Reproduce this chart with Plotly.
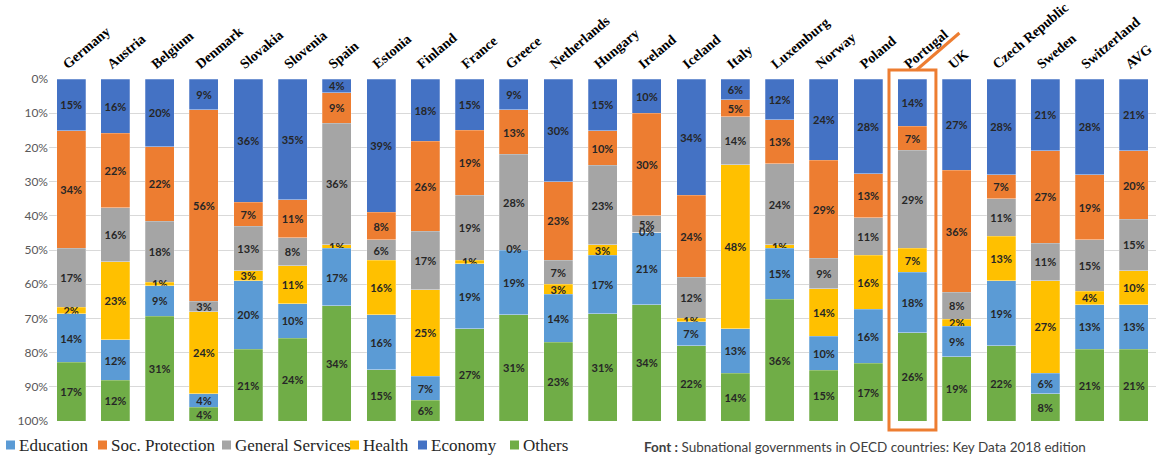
import plotly.graph_objects as go

countries = ["Germany", "Austria", "Belgium", "Denmark", "Slovakia", "Slovenia", "Spain",
             "Estonia", "Finland", "France", "Greece", "Netherlands", "Hungary", "Ireland",
             "Iceland", "Italy", "Luxemburg", "Norway", "Poland", "Portugal", "UK",
             "Czech Republic", "Sweden", "Switzerland", "AVG"]

economy = [15, 16, 20, 9, 36, 35, 4, 39, 18, 15, 9, 30, 15, 10, 34, 6, 12, 24, 28, 14, 27, 28, 21, 28, 21]
soc_protection = [34, 22, 22, 56, 7, 11, 9, 8, 26, 19, 13, 23, 10, 30, 24, 5, 13, 29, 13, 7, 36, 7, 27, 19, 20]
general_services = [17, 16, 18, 3, 13, 8, 36, 6, 17, 19, 28, 7, 23, 5, 12, 14, 24, 9, 11, 29, 8, 11, 11, 15, 15]
health = [2, 23, 1, 24, 3, 11, 1, 16, 25, 1, 0, 3, 3, 0, 1, 48, 1, 14, 16, 7, 2, 13, 27, 4, 10]
education = [14, 12, 9, 4, 20, 10, 17, 16, 7, 19, 19, 14, 17, 21, 7, 13, 15, 10, 16, 18, 9, 19, 6, 13, 13]
others = [17, 12, 31, 4, 21, 24, 34, 15, 6, 27, 31, 23, 31, 34, 22, 14, 36, 15, 17, 26, 19, 22, 8, 21, 21]

y_ticks = [0, 10, 20, 30, 40, 50, 60, 70, 80, 90, 100]
highlight = "Portugal"
source_note = "<b>Font :</b> Subnational governments in OECD countries: Key Data 2018 edition"

# stacking order runs from the top of the (reversed) axis downwards
series = [
    ("Economy", economy, "#4472C4"),
    ("Soc. Protection", soc_protection, "#ED7D31"),
    ("General Services", general_services, "#A5A5A5"),
    ("Health", health, "#FFC000"),
    ("Education", education, "#5B9BD5"),
    ("Others", others, "#70AD47"),
]
legend_order = ["Education", "Soc. Protection", "General Services", "Health", "Economy", "Others"]

LABEL_FONT = dict(family="Lato", size=11, color="#262626", weight="bold")

# page geometry (pixels) used to place the legend row and the note below the plot
W, H = 1156, 455
ML, MR, MT, MB = 49, 0, 79, 34
PW, PH = W - ML - MR, H - MT - MB


def px_x(px):
    return (px - ML) / PW


def px_y(py):
    return (H - MB - py) / PH


fig = go.Figure()
for name, vals, color in series:
    fig.add_trace(go.Bar(
        name=name,
        x=countries,
        y=vals,
        text=[f"{v}%" for v in vals],
        textposition="inside",
        insidetextanchor="middle",
        textangle=0,
        textfont=LABEL_FONT,
        marker=dict(color=color, line=dict(color="rgba(255,255,255,0.5)", width=0.5)),
        showlegend=False,
    ))

# zero-height segments get no inside text, so label them at their stack boundary
totals = [sum(s[1][i] for s in series) for i in range(len(countries))]
zx, zy, zt = [], [], []
for k, (name, vals, color) in enumerate(series):
    for i, v in enumerate(vals):
        if v == 0:
            above = sum(series[j][1][i] for j in range(k))
            zx.append(countries[i])
            zy.append((above + v / 2) / totals[i] * 100)
            zt.append(f"{v}%")
fig.add_trace(go.Scatter(x=zx, y=zy, text=zt, mode="text", textposition="middle center",
                         textfont=LABEL_FONT, showlegend=False, hoverinfo="skip"))

hi = countries.index(highlight)
colors = {name: color for name, _, color in series}

# legend row: colour square followed by its label
legend_left_px = [6, 98, 222, 350, 418, 510]
legend_y_px = 445
shapes = []
annotations = []
for name, lx in zip(legend_order, legend_left_px):
    shapes.append(dict(type="rect", xref="paper", yref="paper",
                       x0=px_x(lx), x1=px_x(lx + 9),
                       y0=px_y(legend_y_px + 4.5), y1=px_y(legend_y_px - 4.5),
                       line=dict(width=0), fillcolor=colors[name]))
    annotations.append(dict(text=name, xref="paper", yref="paper",
                            x=px_x(lx + 11), y=px_y(legend_y_px),
                            xanchor="left", yanchor="middle", showarrow=False,
                            font=dict(family="Liberation Serif", size=17, color="#262626")))

# highlight box around one country and its pointer line
shapes += [
    dict(type="rect", xref="x", yref="paper",
         x0=hi - 0.53, x1=hi + 0.53, y0=px_y(430), y1=px_y(70),
         line=dict(color="#ED7D31", width=3), fillcolor="rgba(0,0,0,0)"),
    dict(type="line", xref="x", yref="paper",
         x0=hi + 0.09, x1=hi + 1.06, y0=px_y(70), y1=px_y(33),
         line=dict(color="#ED7D31", width=3)),
]

annotations.append(dict(text=source_note, xref="paper", yref="paper",
                        x=px_x(642), y=px_y(447), xanchor="left", yanchor="middle",
                        showarrow=False,
                        font=dict(family="Lato", size=13.5, color="#404040")))

fig.update_layout(
    barmode="stack",
    barnorm="percent",
    bargap=0.345,
    width=W,
    height=H,
    margin=dict(l=ML, r=MR, t=MT, b=MB),
    plot_bgcolor="white",
    paper_bgcolor="white",
    showlegend=False,
    uniformtext=dict(minsize=11, mode="show"),
    xaxis=dict(
        side="top",
        tickangle=-40,
        tickfont=dict(family="Liberation Serif", size=14, color="#000000", weight="bold"),
        ticks="",
        showline=False,
        ticklabelshift=-8,
        ticklabelstandoff=4,
        range=[-0.5, len(countries) - 0.5],
    ),
    yaxis=dict(
        range=[100, 0],
        tickvals=y_ticks,
        ticktext=[f"{v}%" for v in y_ticks],
        tickfont=dict(family="Lato", size=12, color="#595959"),
        showgrid=True,
        gridcolor="#D9D9D9",
        gridwidth=1,
        zeroline=False,
        ticks="",
    ),
    shapes=shapes,
    annotations=annotations,
)

fig.write_html("out.html")
